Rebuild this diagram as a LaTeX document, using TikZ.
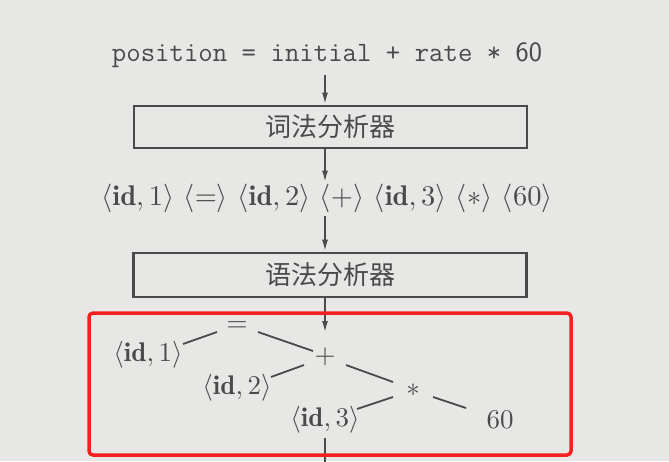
\documentclass[tikz,border=0pt]{standalone}
\usepackage{graphicx}
\usepackage{fontspec}
\newfontfamily\cjk{Noto Sans CJK SC}
\usetikzlibrary{arrows.meta,calc}
\definecolor{bgc}{RGB}{231,231,229}
\definecolor{ink}{RGB}{74,74,74}
\definecolor{redbox}{RGB}{245,32,32}
\newcommand\enlargemath[1]{\scalebox{2.7}{#1}}
\newcommand\enlargetokens[1]{\scalebox{2.85}{#1}}
\begin{document}
\begin{tikzpicture}[x=1pt,y=-1pt,
  txt/.style={text=ink, font=\fontsize{10}{12}\selectfont, inner sep=0pt},
  stagebox/.style={draw=ink, line width=2.6pt, minimum width=393pt, minimum height=42pt, inner sep=0pt, text=ink, font=\cjk\fontsize{26}{30}\selectfont},
  flow/.style={draw=ink, line width=2pt, -{Latex[length=12pt,width=6pt]}},
  treeedge/.style={draw=ink, line width=1.8pt},
  markbox/.style={draw=redbox, line width=3.5pt, rounded corners=4pt}]
\clip (0,0) rectangle (669,461);
\fill[bgc] (0,0) rectangle (669,461);
% stages
\node[txt, font=\fontsize{28}{32}\selectfont] (src) at (327,55) {\ttfamily\addfontfeatures{FakeBold=0.8}position = initial + rate * \sffamily 60};
\node[stagebox] (lex) at (330.5,127) {词法分析器\hspace{18pt}};
\node[txt] (tok) at (327,198) {\enlargetokens{$\langle\mathbf{id},1\rangle$ $\langle=\rangle$ $\langle\mathbf{id},2\rangle$ $\langle+\rangle$ $\langle\mathbf{id},3\rangle$ $\langle*\rangle$ $\langle60\rangle$}};
\node[stagebox, minimum height=44pt] (syn) at (330,275) {语法分析器\hspace{18pt}};
% tree
\node[txt] (eq) at (237,327) {\enlargemath{$=$}};
\node[txt] (id1) at (148,355) {\enlargemath{$\langle\mathbf{id},1\rangle$}};
\node[txt] (plus) at (325,357) {\enlargemath{$+$}};
\node[txt] (id2) at (237,388) {\enlargemath{$\langle\mathbf{id},2\rangle$}};
\node[txt] (star) at (413,390) {\enlargemath{$*$}};
\node[txt] (id3) at (325,420) {\enlargemath{$\langle\mathbf{id},3\rangle$}};
\node[txt] (n60) at (500,420) {\enlargemath{60}};
% flow arrows
\coordinate (ax) at (325,0);
\coordinate (tip4) at (325,333);
\coordinate (exit) at (325,490);
\draw[flow, shorten <=7pt] (src.south -| ax) -- (lex.north -| ax);
\draw[flow] (lex.south -| ax) -- ($(tok.north -| ax)+(0,-1)$);
\draw[flow, shorten <=4pt] (tok.south -| ax) -- (syn.north -| ax);
\draw[flow] (syn.south -| ax) -- (tip4);
\draw[flow] ($(id3.south)+(0,4)$) -- (exit);
% tree edges
\draw[treeedge] ($(eq)+(-20,5)$) -- ($(id1)+(35,-11)$);
\draw[treeedge] ($(eq)+(21,5)$) -- ($(plus)+(-12,-6)$);
\draw[treeedge] ($(plus)+(-21,8)$) -- ($(id2)+(34,-11)$);
\draw[treeedge] ($(plus)+(21,8)$) -- ($(star)+(-20,-8)$);
\draw[treeedge] ($(star)+(-20,7)$) -- ($(id3)+(32,-11)$);
\draw[treeedge] ($(star)+(20,7)$) -- ($(n60)+(-34,-12)$);
% highlight
\draw[markbox] (89,313) rectangle (571,455);
\end{tikzpicture}
\end{document}
